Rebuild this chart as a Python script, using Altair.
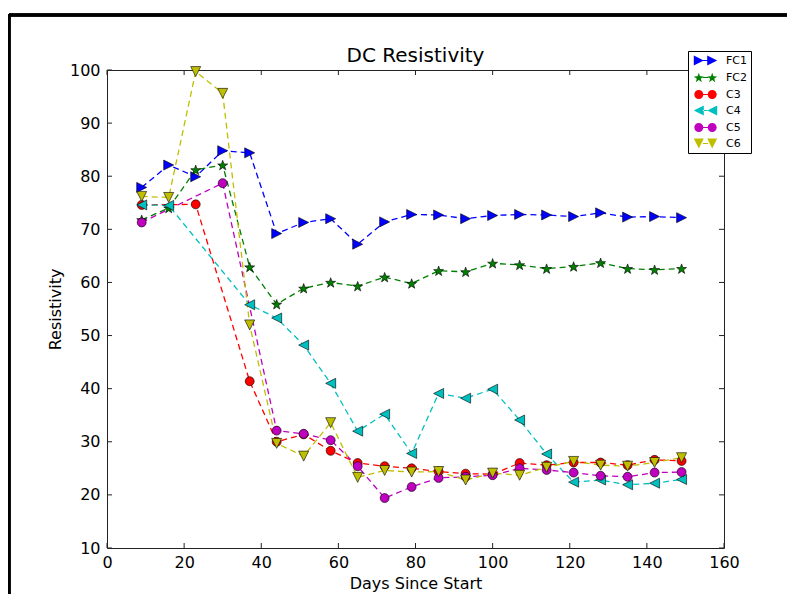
import math
import altair as alt
import pandas as pd

# ---------------- data ----------------
days_all = [9, 16, 23, 30, 37, 44, 51, 58, 65, 72, 79, 86, 93, 100, 107, 114, 121, 128, 135, 142, 149]

fc1_days = days_all
fc1_vals = [77.9, 82.1, 79.9, 84.8, 84.4, 69.2, 71.3, 72.0, 67.2, 71.4, 72.8,
            72.7, 72.0, 72.6, 72.8, 72.7, 72.4, 73.1, 72.3, 72.4, 72.2]

fc2_days = days_all
fc2_vals = [71.8, 74.0, 81.2, 82.1, 62.9, 55.9, 58.9, 60.0, 59.3, 61.0, 59.8,
            62.2, 62.0, 63.6, 63.3, 62.6, 63.0, 63.7, 62.6, 62.4, 62.6]

c3_days = [9, 23, 37, 44, 51, 58, 65, 72, 79, 86, 93, 100, 107, 114, 121, 128, 135, 142, 149]
c3_vals = [74.6, 74.7, 41.4, 30.0, 31.4, 28.3, 26.0, 25.4, 25.0, 24.4, 24.0,
           23.9, 26.0, 25.6, 26.1, 26.1, 25.6, 26.6, 26.4]

c4_days = [9, 16, 37, 44, 51, 58, 65, 72, 79, 86, 93, 100, 107, 114, 121, 128, 135, 142, 149]
c4_vals = [74.6, 74.5, 55.8, 53.3, 48.2, 41.0, 32.0, 35.2, 27.8, 39.1, 38.2,
           39.9, 34.1, 27.7, 22.4, 22.8, 21.9, 22.2, 22.9]

c5_days = [9, 30, 44, 51, 58, 65, 72, 79, 86, 93, 100, 107, 114, 121, 128, 135, 142, 149]
c5_vals = [71.3, 78.7, 32.1, 31.5, 30.3, 25.4, 19.4, 21.5, 23.2, 23.4, 23.7,
           25.0, 24.7, 24.2, 23.6, 23.4, 24.2, 24.3]

c6_days = days_all
c6_vals = [76.2, 76.0, 99.7, 95.6, 52.0, 29.7, 27.3, 33.6, 23.3, 24.6, 24.3,
           24.4, 22.8, 24.1, 23.7, 25.2, 26.3, 25.6, 25.4, 26.1, 27.0]

series_names = ["FC1", "FC2", "C3", "C4", "C5", "C6"]
series_colors = ["#0000ff", "#008000", "#ff0000", "#00bfbf", "#bf00bf", "#bfbf00"]
x_ticks = [0, 20, 40, 60, 80, 100, 120, 140, 160]
y_ticks = [10, 20, 30, 40, 50, 60, 70, 80, 90, 100]

series_data = [
    ("FC1", fc1_days, fc1_vals),
    ("FC2", fc2_days, fc2_vals),
    ("C3", c3_days, c3_vals),
    ("C4", c4_days, c4_vals),
    ("C5", c5_days, c5_vals),
    ("C6", c6_days, c6_vals),
]
rows = []
for name, ds, vs in series_data:
    for d, v in zip(ds, vs):
        rows.append({"series": name, "day": d, "value": v})
df = pd.DataFrame(rows)
df["order"] = df["series"].map({n: i for i, n in enumerate(series_names)})

# ---------------- marker shapes (SVG paths, unit coords) ----------------
def poly(pts, dx=0.0, s=1.0):
    return "M" + "L".join(f"{dx + s * x:.3f},{s * y:.3f}" for x, y in pts) + "Z"

def circ(r, dx=0.0):
    return (f"M{dx + r:.3f},0A{r:.3f},{r:.3f} 0 1,1 {dx - r:.3f},0"
            f"A{r:.3f},{r:.3f} 0 1,1 {dx + r:.3f},0Z")

tri_r = [(-1, -1), (1, 0), (-1, 1)]
tri_l = [(1, -1), (-1, 0), (1, 1)]
tri_d = [(-1, -1), (1, -1), (0, 1)]
star_pts = []
for i in range(10):
    a = math.radians(-90 + 36 * i)
    rad = 1.0 if i % 2 == 0 else 0.40
    star_pts.append((rad * math.cos(a), rad * math.sin(a) + 0.1))

def marker(kind, dx=0.0, s=1.0):
    if kind == "tr":
        return poly(tri_r, dx, s)
    if kind == "tl":
        return poly(tri_l, dx, s)
    if kind == "td":
        return poly(tri_d, dx, s)
    if kind == "st":
        return poly(star_pts, dx, s * 1.05)
    return circ(0.9 * s, dx)

kinds = ["tr", "st", "c", "tl", "c", "td"]
plot_shapes = [marker(k) for k in kinds]

# legend symbols: marker - line - marker
lg_s = 0.833
lg_c = 1.117
legend_shapes = []
for k in kinds:
    line = "M-0.45,-0.1L0.45,-0.1L0.45,0.1L-0.45,0.1Z"
    legend_shapes.append(line + marker(k, -lg_c, lg_s) + marker(k, lg_c, lg_s))

# ---------------- chart ----------------
W, H = 617, 478
FONT = "DejaVu Sans"

xscale = alt.Scale(domain=[0, 160], nice=False, zero=False)
yscale = alt.Scale(domain=[10, 100], nice=False, zero=False)

color_enc = alt.Color("series:N", scale=alt.Scale(domain=series_names, range=series_colors), legend=None)

x_enc = alt.X("day:Q", scale=xscale, title="Days Since Start",
              axis=alt.Axis(values=x_ticks, format="d", tickSize=0, domain=False, grid=False,
                            labelFlush=False, labelPadding=6, titlePadding=5))
y_enc = alt.Y("value:Q", scale=yscale, title="Resistivity",
              axis=alt.Axis(values=y_ticks, format="d", tickSize=0, domain=False, grid=False,
                            labelFlush=False, labelPadding=7, titlePadding=6))

lines = alt.Chart(df).mark_line(strokeDash=[6, 4], strokeWidth=1.3).encode(
    x=x_enc, y=y_enc, color=color_enc, detail="series:N", order="day:Q"
)

points = alt.Chart(df).mark_point(filled=True, size=100, stroke="black", strokeWidth=0.6, opacity=1).encode(
    x=alt.X("day:Q", scale=xscale),
    y=alt.Y("value:Q", scale=yscale),
    fill=alt.Fill("series:N", scale=alt.Scale(domain=series_names, range=series_colors), legend=None),
    shape=alt.Shape("series:N", scale=alt.Scale(domain=series_names, range=plot_shapes), legend=None),
    order="order:Q",
)

leg = alt.Legend(title=None, orient="none", legendX=581, legendY=-19,
                 padding=3, symbolOffset=8, labelOffset=14, rowPadding=4,
                 symbolSize=144, symbolOpacity=1, symbolStrokeColor="black",
                 symbolStrokeWidth=0.5, labelFontSize=11, labelFont=FONT,
                 labelColor="black", strokeColor="black", fillColor="white",
                 cornerRadius=0)

legend_layer = alt.Chart(df).mark_point(filled=True, size=0, opacity=0).encode(
    x=alt.X("day:Q", scale=xscale),
    y=alt.Y("value:Q", scale=yscale),
    color=alt.Color("series:N", scale=alt.Scale(domain=series_names, range=series_colors), legend=leg),
    shape=alt.Shape("series:N", scale=alt.Scale(domain=series_names, range=legend_shapes), legend=leg),
)

xt = pd.DataFrame({"day": x_ticks})
yt = pd.DataFrame({"value": y_ticks})
TK = 5
tick_color = "#222222"
ticks_bottom = alt.Chart(xt).mark_rule(color=tick_color, strokeWidth=1).encode(
    x=alt.X("day:Q", scale=xscale), y=alt.value(H), y2=alt.value(H - TK))
ticks_top = alt.Chart(xt).mark_rule(color=tick_color, strokeWidth=1).encode(
    x=alt.X("day:Q", scale=xscale), y=alt.value(0), y2=alt.value(TK))
ticks_left = alt.Chart(yt).mark_rule(color=tick_color, strokeWidth=1).encode(
    y=alt.Y("value:Q", scale=yscale), x=alt.value(0), x2=alt.value(TK))
ticks_right = alt.Chart(yt).mark_rule(color=tick_color, strokeWidth=1).encode(
    y=alt.Y("value:Q", scale=yscale), x=alt.value(W), x2=alt.value(W - TK))

frame_top = alt.Chart(xt).mark_rule(color="black", strokeWidth=2.5).encode(
    x=alt.value(-98), x2=alt.value(690), y=alt.value(-55))
frame_left = alt.Chart(xt).mark_rule(color="black", strokeWidth=2.5).encode(
    x=alt.value(-98), y=alt.value(-56), y2=alt.value(540))

chart = alt.layer(
    lines, points, legend_layer, ticks_bottom, ticks_top, ticks_left, ticks_right, frame_top, frame_left
).resolve_scale(
    color="independent", shape="independent"
).properties(
    width=W, height=H,
    background="white",
    title=alt.Title("DC Resistivity", fontSize=20, font=FONT, fontWeight="normal", color="black",
                    frame="group", anchor="middle", offset=0, dy=69, baseline="alphabetic"),
    autosize=alt.AutoSizeParams(type="none"),
    padding={"left": 99, "top": 62, "right": 63, "bottom": 46},
).configure_view(
    stroke="#222222", strokeWidth=1
).configure_axis(
    labelFont=FONT, titleFont=FONT, labelFontSize=16, titleFontSize=16,
    titleFontWeight="normal", labelColor="black", titleColor="black"
)

chart.save("out.html", embed_options={"renderer": "svg", "actions": False})
